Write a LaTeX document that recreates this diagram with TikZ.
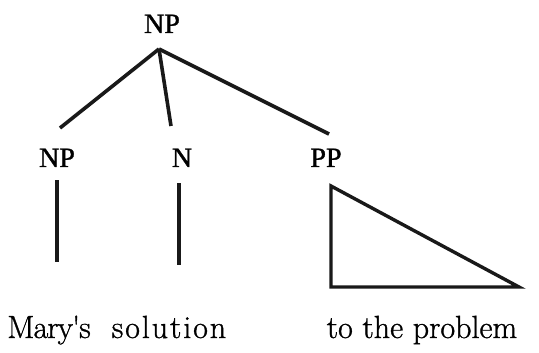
\documentclass[tikz,border=0pt]{standalone}
\usepackage{fontspec}
\newfontfamily\catfont[FakeBold=1.2]{Liberation Serif}
\newfontfamily\wordfont[FakeBold=1.0]{Latin Modern Roman}
\begin{document}
\begin{tikzpicture}[x=1pt,y=-1pt,
  cat/.style={font=\catfont\fontsize{28}{30}\selectfont, anchor=base, inner sep=0pt},
  word/.style={font=\wordfont\fontsize{32}{36}\selectfont, anchor=base, inner sep=0pt},
  branch/.style={line width=3.6pt, black!90},
  tri/.style={line width=3.4pt, black!90, line join=miter}]
\useasboundingbox (0,0) rectangle (539,353);
% labels
\node[cat] (np0) at (162,33) {NP};
\node[cat] (np1) at (57,167) {NP};
\node[cat] (n1) at (182,167) {N};
\node[cat] (pp1) at (326,167) {PP};
% words
\node[word] (w1) at (49,338) {\addfontfeature{LetterSpace=-3}Mary's};
\node[word] (w2) at (169,338) {\addfontfeature{LetterSpace=6}solution};
\node[word] (w3) at (422,338) {to the problem};
% branch points
\coordinate (apex) at (159,49);
\coordinate (eNP) at (60,128);
\coordinate (eN) at (171,126);
\coordinate (ePP) at (329,134);
\draw[branch] (apex) -- (eNP);
\draw[branch] (apex) -- (eN);
\draw[branch] (apex) -- (ePP);
% unary lines
\coordinate (a1) at (57,180);
\coordinate (b1) at (57,262);
\coordinate (a2) at (179,183);
\coordinate (b2) at (179,265);
\draw[branch] (a1) -- (b1);
\draw[branch] (a2) -- (b2);
% triangle
\coordinate (t1) at (331,186);
\coordinate (t2) at (331,287);
\coordinate (t3) at (519,287);
\draw[tri] (t1) -- (t2) -- (t3) -- cycle;
\end{tikzpicture}
\end{document}
